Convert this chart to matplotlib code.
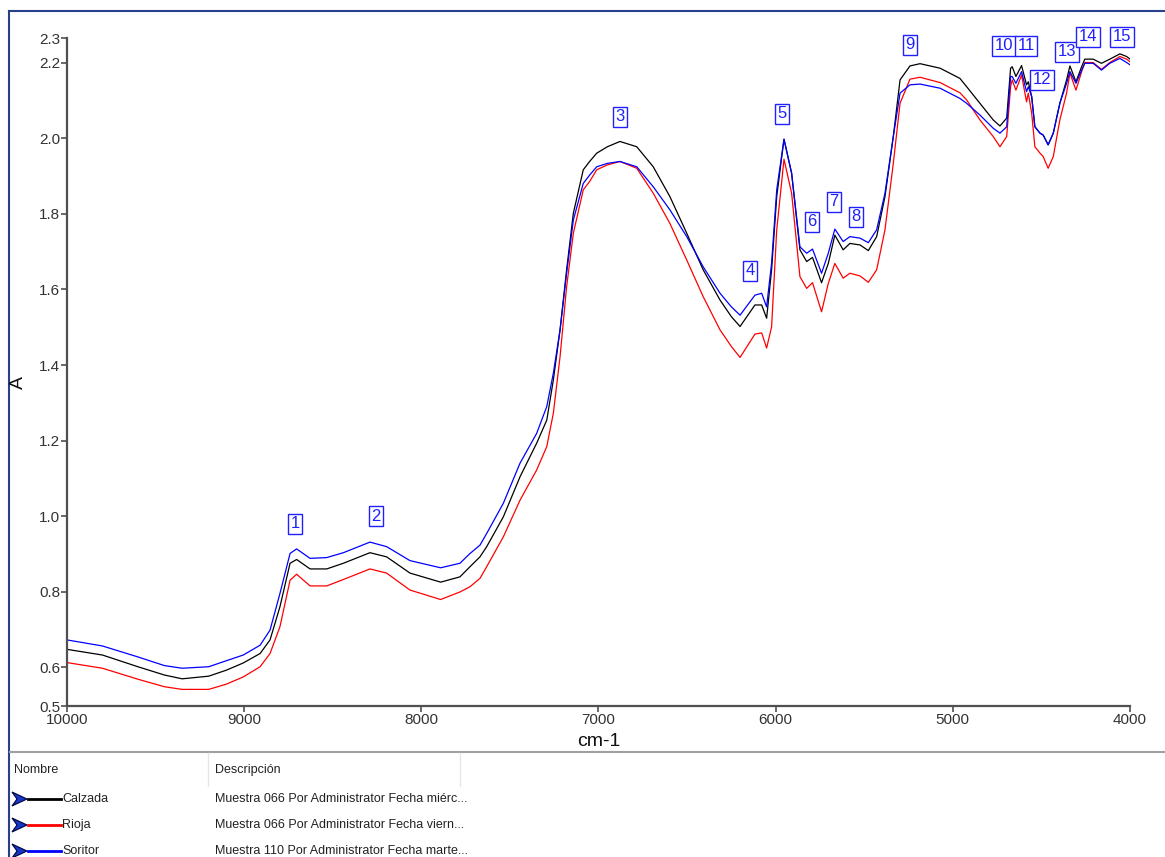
#!/usr/bin/env python3
"""NIR absorbance spectra of three samples with numbered band markers."""

import numpy as np
import matplotlib
matplotlib.use("Agg")
import matplotlib.pyplot as plt
from matplotlib.patches import Polygon

plt.rcParams['font.family'] = ['Liberation Sans', 'DejaVu Sans']

# Wavenumber grid (cm-1) and absorbance for each sample
wavenumber = [
    10000, 9800, 9600, 9450, 9350, 9200, 9100, 9005, 8910, 8854, 8798, 8741,
    8704, 8628, 8534, 8440, 8290, 8196, 8064, 7891, 7782, 7725, 7669, 7631,
    7537, 7443, 7349, 7292, 7255, 7217, 7180, 7142, 7086, 7050, 7010, 6950, 6879, 6784,
    6691, 6597, 6502, 6409, 6314, 6250, 6201, 6117, 6079, 6051, 6023, 5994, 5953,
    5910, 5863, 5825, 5792, 5741, 5703, 5666, 5619, 5581, 5524, 5477, 5430,
    5383, 5336, 5298, 5242, 5185, 5072, 4960, 4922, 4847, 4772, 4734, 4696,
    4674, 4665, 4644, 4612, 4584, 4574, 4555, 4537, 4508, 4490, 4462, 4433,
    4396, 4358, 4339, 4305, 4273, 4255, 4208, 4161, 4114, 4057, 4019, 4000,
]
calzada = [
    0.647, 0.632, 0.601, 0.579, 0.569, 0.576, 0.592, 0.611, 0.636, 0.672, 0.760, 0.875,
    0.885, 0.860, 0.860, 0.875, 0.903, 0.892, 0.849, 0.825, 0.839, 0.866, 0.892, 0.919,
    0.998, 1.104, 1.193, 1.254, 1.360, 1.493, 1.652, 1.802, 1.917, 1.939, 1.961, 1.978, 1.992, 1.978,
    1.925, 1.846, 1.749, 1.652, 1.572, 1.528, 1.502, 1.559, 1.559, 1.524, 1.652, 1.846, 1.998,
    1.908, 1.705, 1.674, 1.685, 1.618, 1.669, 1.744, 1.705, 1.722, 1.718, 1.703, 1.740,
    1.846, 2.005, 2.155, 2.192, 2.198, 2.186, 2.159, 2.137, 2.093, 2.049, 2.033, 2.054,
    2.186, 2.190, 2.164, 2.193, 2.142, 2.150, 2.111, 2.031, 2.014, 2.009, 1.983, 2.014,
    2.093, 2.155, 2.192, 2.150, 2.190, 2.210, 2.210, 2.199, 2.210, 2.224, 2.217, 2.210,
]
rioja = [
    0.612, 0.597, 0.568, 0.548, 0.541, 0.541, 0.555, 0.574, 0.601, 0.636, 0.707, 0.830,
    0.846, 0.815, 0.815, 0.832, 0.860, 0.849, 0.804, 0.779, 0.799, 0.813, 0.835, 0.866,
    0.945, 1.042, 1.122, 1.184, 1.272, 1.422, 1.607, 1.749, 1.864, 1.886, 1.917, 1.930, 1.939, 1.921,
    1.855, 1.775, 1.678, 1.581, 1.493, 1.449, 1.420, 1.482, 1.485, 1.445, 1.501, 1.758, 1.945,
    1.855, 1.634, 1.603, 1.618, 1.541, 1.616, 1.669, 1.630, 1.643, 1.636, 1.619, 1.652,
    1.758, 1.934, 2.093, 2.157, 2.162, 2.148, 2.121, 2.102, 2.049, 2.005, 1.978, 2.005,
    2.137, 2.155, 2.128, 2.168, 2.097, 2.120, 2.067, 1.978, 1.961, 1.952, 1.921, 1.952,
    2.049, 2.120, 2.173, 2.128, 2.177, 2.201, 2.201, 2.183, 2.201, 2.217, 2.210, 2.203,
]
soritor = [
    0.672, 0.656, 0.627, 0.604, 0.597, 0.601, 0.617, 0.632, 0.658, 0.698, 0.795, 0.901,
    0.913, 0.888, 0.890, 0.903, 0.931, 0.919, 0.882, 0.863, 0.875, 0.901, 0.923, 0.954,
    1.034, 1.140, 1.219, 1.290, 1.378, 1.493, 1.643, 1.784, 1.881, 1.903, 1.925, 1.934, 1.939, 1.925,
    1.872, 1.811, 1.740, 1.660, 1.590, 1.554, 1.532, 1.585, 1.590, 1.554, 1.670, 1.864, 1.998,
    1.908, 1.713, 1.696, 1.707, 1.643, 1.696, 1.760, 1.727, 1.740, 1.736, 1.724, 1.758,
    1.855, 2.005, 2.120, 2.142, 2.144, 2.133, 2.106, 2.093, 2.062, 2.027, 2.014, 2.031,
    2.164, 2.164, 2.146, 2.177, 2.124, 2.137, 2.111, 2.031, 2.014, 2.009, 1.983, 2.014,
    2.093, 2.146, 2.177, 2.146, 2.181, 2.199, 2.199, 2.181, 2.199, 2.212, 2.201, 2.195,
]

# Numbered band markers (label, wavenumber, absorbance of the box centre)
peak_labels = ['1', '2', '3', '4', '5', '6', '7', '8', '9', '10', '11', '12', '13', '14', '15']
peak_x = [8713, 8256, 6879, 6145, 5964, 5795, 5671, 5547, 5242, 4711, 4587, 4497, 4356, 4237, 4045]
peak_y = [0.979, 1.000, 2.057, 1.649, 2.065, 1.779, 1.832, 1.792, 2.248, 2.245, 2.245, 2.155, 2.229,
          2.269, 2.269]

# Axis range and tick values
y_min, y_max = 0.497, 2.266
y_ticks = [y_min, 0.6, 0.8, 1.0, 1.2, 1.4, 1.6, 1.8, 2.0, 2.2, y_max]
y_tick_labels = ['0.5', '0.6', '0.8', '1.0', '1.2', '1.4', '1.6', '1.8', '2.0', '2.2', '2.3']
x_ticks = [10000, 9000, 8000, 7000, 6000, 5000, 4000]

# Legend table contents
series_names = ['Calzada', 'Rioja', 'Soritor']
series_colors = ['#000000', '#FF0000', '#0000FF']
series_desc = [
    'Muestra 066 Por Administrator Fecha miérc...',
    'Muestra 066 Por Administrator Fecha viern...',
    'Muestra 110 Por Administrator Fecha marte...',
]

W, H = 1165, 857
fig = plt.figure(figsize=(W / 100, H / 100), dpi=100)

# Overlay in pixel units for the window frame and the legend table
ov = fig.add_axes([0, 0, 1, 1])
ov.set_xlim(0, W)
ov.set_ylim(H, 0)
ov.axis('off')
ov.plot([9, W], [11, 11], color='#27408B', lw=1.5)
ov.plot([9, 9], [11, H], color='#27408B', lw=1.5)
ov.plot([10, W], [752, 752], color='#A0A0A0', lw=1.5)
ov.plot([208, 208], [753, 786], color='#E6E6E6', lw=1)
ov.plot([460, 460], [753, 786], color='#E6E6E6', lw=1)
legend_fs = 9
ov.text(14, 770, 'Nombre', fontsize=legend_fs, va='center', ha='left', color='#222222')
ov.text(215, 770, 'Descripción', fontsize=legend_fs, va='center', ha='left', color='#222222')
row_y = [799, 825, 851]
for yy, name, col, desc in zip(row_y, series_names, series_colors, series_desc):
    arrow = Polygon([(12, yy - 7), (27, yy), (12, yy + 7), (17, yy)], closed=True,
                    facecolor='#1538C8', edgecolor='#000040', lw=0.8)
    ov.add_patch(arrow)
    ov.plot([28, 61], [yy, yy], color=col, lw=2)
    ov.text(62, yy, name, fontsize=legend_fs, va='center', ha='left', color='#222222')
    ov.text(215, yy, desc, fontsize=legend_fs, va='center', ha='left', color='#222222')

# Spectrum axes
ax = fig.add_axes([67 / W, 1 - 706 / H, (1130 - 67) / W, (706 - 38) / H])
ax.patch.set_alpha(0)
for name, col, vals in zip(series_names, series_colors, [calzada, rioja, soritor]):
    ax.plot(wavenumber, vals, color=col, lw=0.9)

for lab, px, py in zip(peak_labels, peak_x, peak_y):
    ax.text(px, py, lab, fontsize=12, color='#2020FF', ha='center', va='center',
            bbox=dict(boxstyle='square,pad=0.15', fc='white', ec='#2020FF', lw=1))

ax.set_xlim(10000, 4000)
ax.set_ylim(y_min, y_max)
ax.set_xticks(x_ticks)
ax.set_xticklabels([str(t) for t in x_ticks])
ax.set_yticks(y_ticks)
ax.set_yticklabels(y_tick_labels)
for s in ['top', 'right']:
    ax.spines[s].set_visible(False)
for s in ['left', 'bottom']:
    ax.spines[s].set_color('#505050')
    ax.spines[s].set_linewidth(1.6)
ax.tick_params(axis='both', colors='#505050', labelcolor='#333333', labelsize=11,
               length=4, width=1.2, pad=1)
ax.set_xlabel('cm-1', fontsize=14, color='#111111', labelpad=4)
ax.text(-0.046, 0.485, 'A', transform=ax.transAxes, rotation=90, fontsize=14,
        ha='center', va='center', color='#111111')

fig.savefig('out.png', dpi=100)
